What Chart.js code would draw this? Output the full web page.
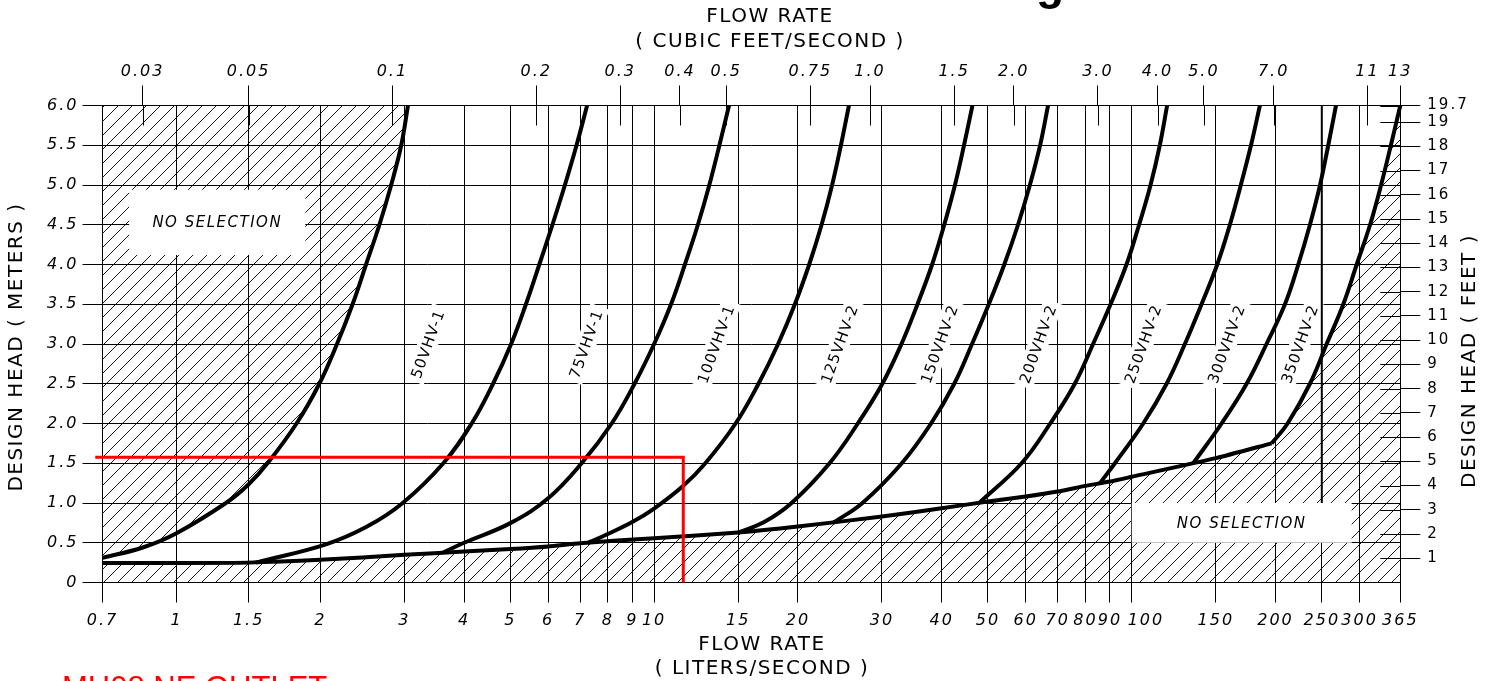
<!DOCTYPE html>
<html>
<head>
<meta charset="utf-8">
<script src="https://cdn.jsdelivr.net/npm/chart.js@4.4.1/dist/chart.umd.min.js"></script>
<style>
  html, body { margin: 0; padding: 0; background: #fff; }
  #wrap { position: relative; width: 1494px; height: 681px; }
</style>
</head>
<body>
<div id="wrap"><canvas id="pumpChart"></canvas></div>
<script>
    /* --------------- Curves: [flow L/s, design head m] ---------------------------------------- */
    const lowLimit = [[0.7, 0.31], [0.85, 0.44], [1, 0.62], [1.269, 1.0], [1.413, 1.23], [1.551, 1.5], [1.784, 2.0], [1.991, 2.5], [2.168, 3.0], [2.337, 3.5], [2.494, 4.0], [2.66, 4.5], [2.815, 5.0], [2.955, 5.5], [3.053, 6.0]];
    const baseline = [[0.7, 0.245], [1, 0.245], [1.413, 0.25], [2, 0.285], [3, 0.348], [4, 0.39], [5, 0.42], [6, 0.453], [7, 0.495], [10, 0.558], [15, 0.629], [20, 0.704], [30, 0.83], [40, 0.935], [50, 1.018], [60, 1.081], [70, 1.144], [80, 1.215], [90, 1.27], [100, 1.33], [150, 1.564], [196.3, 1.75]];
    const vhv50 = [[1.467, 0.25], [2.056, 0.48], [2.5, 0.7], [2.976, 1.0], [3.62, 1.5], [4.15, 2.0], [4.6, 2.5], [5.019, 3.0], [5.39, 3.5], [5.75, 4.0], [6.125, 4.5], [6.505, 5.0], [6.88, 5.5], [7.24, 6.0]];
    const vhv75 = [[3.61, 0.375], [4, 0.5], [5, 0.747], [6, 1.06], [7.05, 1.5], [8.15, 2.0], [9.1, 2.5], [10.0, 3.0], [10.85, 3.5], [11.6, 4.0], [12.35, 4.5], [13.05, 5.0], [13.7, 5.5], [14.35, 6.0]];
    const vhv100 = [[7.25, 0.495], [8, 0.61], [9, 0.76], [10, 0.93], [11.48, 1.21], [12.8, 1.5], [14.81, 2.0], [16.54, 2.5], [18.18, 3.0], [19.71, 3.5], [21.12, 4.0], [22.42, 4.5], [23.59, 5.0], [24.61, 5.5], [25.58, 6.0]];
    const vhv125 = [[14.97, 0.625], [17, 0.76], [19.4, 1.0], [23.3, 1.5], [26.7, 2.0], [30.05, 2.5], [32.95, 3.0], [35.6, 3.5], [38.2, 4.0], [40.5, 4.5], [42.65, 5.0], [44.55, 5.5], [46.4, 6.0]];
    const vhv150 = [[23.7, 0.75], [27.3, 1.0], [33.0, 1.5], [38.0, 2.0], [42.5, 2.5], [46.3, 3.0], [50.2, 3.5], [54.1, 4.0], [57.8, 4.5], [61.2, 5.0], [64.3, 5.5], [66.8, 6.0]];
    const vhv200 = [[48.1, 1.01], [58.8, 1.5], [67.5, 2.0], [76.0, 2.5], [83.0, 3.0], [90.3, 3.5], [97.5, 4.0], [103.6, 4.5], [109.5, 5.0], [114.5, 5.5], [118.6, 6.0]];
    const vhv250 = [[85.8, 1.25], [92.2, 1.5], [105.7, 2.0], [118.3, 2.5], [129.2, 3.0], [140, 3.5], [151, 4.0], [160.5, 4.5], [169.2, 5.0], [177.7, 5.5], [185.5, 6.0]];
    const vhv300 = [[134.5, 1.5], [154.2, 2.0], [174, 2.5], [191.5, 3.0], [209.3, 3.5], [223.2, 4.0], [236.1, 4.5], [247.9, 5.0], [257.9, 5.5], [267.7, 6.0]];
    const vhv350 = [[196.3, 1.75], [212, 2.0], [236.1, 2.5], [255.9, 3.0], [277.3, 3.5], [295.8, 4.0], [315.5, 4.5], [332.7, 5.0], [348.8, 5.5], [365, 6.0]];
    const limit250 = [[250, 1.0], [250, 6.0]];
    const designPoint = [[0.676, 1.575], [11.51, 1.575], [11.51, 0]];
    const pumpNames = ["50VHV-1", "75VHV-1", "100VHV-1", "125VHV-2", "150VHV-2", "200VHV-2", "250VHV-2", "300VHV-2", "350VHV-2"];

    /* --------------- Axis ticks --------------------- */
    const lpsTicks = [0.7, 1, 1.416, 2, 3, 4, 5, 6, 7, 8, 9, 10, 15, 20, 30, 40, 50, 60, 70, 80, 90, 100, 150, 200, 250, 300, 365];
    const lpsLabels = ["0.7", "1", "1.5", "2", "3", "4", "5", "6", "7", "8", "9", "10", "15", "20", "30", "40", "50", "60", "70", "80", "90", "100", "150", "200", "250", "300", "365"];
    const cfsTicks = [0.03, 0.05, 0.1, 0.2, 0.3, 0.4, 0.5, 0.75, 1, 1.5, 2, 3, 4, 5, 7, 11, 13];
    const cfsLabels = ["0.03", "0.05", "0.1", "0.2", "0.3", "0.4", "0.5", "0.75", "1.0", "1.5", "2.0", "3.0", "4.0", "5.0", "7.0", "11", "13"];
    const ftTicks = [1, 2, 3, 4, 5, 6, 7, 8, 9, 10, 11, 12, 13, 14, 15, 16, 17, 18, 19, 19.685];
    const ftLabels = ["1", "2", "3", "4", "5", "6", "7", "8", "9", "10", "11", "12", "13", "14", "15", "16", "17", "18", "19", "19.7"];

    const LPS_PER_CFS = 28.3168;
    const M_PER_FT = 0.3048;
    const FONT = '"DejaVu Sans"';

    /* --------------- Hatch pattern for the no selection areas --------------------- */
    const canvas = document.getElementById("pumpChart");
    const hatch = (() => {
      const c = document.createElement("canvas");
      c.width = 14;
      c.height = 14;
      const g = c.getContext("2d");
      g.strokeStyle = "#000";
      g.lineWidth = 0.9;
      g.beginPath();
      g.moveTo(-7, 7); g.lineTo(7, -7);
      g.moveTo(0, 14); g.lineTo(14, 0);
      g.moveTo(7, 21); g.lineTo(21, 7);
      g.stroke();
      return canvas.getContext("2d").createPattern(c, "repeat");
    })();

    const curve = (points, extra) => Object.assign({
      data: points.map(p => ({ x: p[0], y: p[1] })),
      showLine: true,
      borderColor: "#000",
      borderWidth: 4,
      pointRadius: 0,
      fill: false,
      tension: 0.4,
      clip: 4,
    }, extra);

    /* --------------- Plugins --------------------- */
    const letterSpacing = {
      id: "letterSpacing",
      beforeDraw(chart) { chart.ctx.letterSpacing = "2px"; },
    };

    const curveLabels = {
      id: "curveLabels",
      beforeDatasetsDraw(chart, args, opts) {
        const { ctx, scales: { x, y } } = chart;
        ctx.save();
        ctx.font = "15px " + FONT;
        ctx.letterSpacing = "1px";
        ctx.textAlign = "center";
        ctx.textBaseline = "middle";
        pumpNames.forEach((name, i) => {
          const w = ctx.measureText(name).width + 8;
          ctx.save();
          ctx.translate(x.getPixelForValue(opts.at[i]), y.getPixelForValue(opts.head));
          ctx.rotate(-70 * Math.PI / 180);
          ctx.fillStyle = "#fff";
          ctx.fillRect(-w / 2, -10, w, 20);
          ctx.fillStyle = "#000";
          ctx.fillText(name, 0, 1);
          ctx.restore();
        });
        ctx.restore();
      },
    };

    const noSelection = {
      id: "noSelection",
      afterDatasetsDraw(chart, args, opts) {
        const { ctx, chartArea: a, scales: { x, y, xTop, yFt } } = chart;
        ctx.save();
        opts.boxes.forEach(b => {
          const x0 = x.getPixelForValue(b[0]), x1 = x.getPixelForValue(b[1]);
          const y0 = y.getPixelForValue(b[3]), y1 = y.getPixelForValue(b[2]);
          ctx.fillStyle = "#fff";
          ctx.fillRect(x0, y0, x1 - x0, y1 - y0);
          ctx.fillStyle = "#000";
          ctx.font = "italic 15px " + FONT;
          ctx.letterSpacing = "1.5px";
          ctx.textAlign = "center";
          ctx.textBaseline = "middle";
          ctx.fillText("NO SELECTION", (x0 + x1) / 2, (y0 + y1) / 2 + 1);
        });
        // inner halves of the cfs and feet tick marks
        ctx.strokeStyle = "#000";
        ctx.lineWidth = 1;
        ctx.beginPath();
        xTop.ticks.forEach(t => {
          const px = Math.round(xTop.getPixelForValue(t.value)) + 0.5;
          ctx.moveTo(px, a.top);
          ctx.lineTo(px, a.top + 20);
        });
        yFt.ticks.forEach(t => {
          const py = Math.round(yFt.getPixelForValue(t.value)) + 0.5;
          ctx.moveTo(a.right - 20, py);
          ctx.lineTo(a.right, py);
        });
        ctx.stroke();
        ctx.restore();
      },
    };

    const sheetText = {
      id: "sheetText",
      afterDraw(chart) {
        const ctx = chart.ctx;
        ctx.save();
        ctx.fillStyle = "#000";
        ctx.font = "20px " + FONT;
        ctx.letterSpacing = "1.5px";
        ctx.textAlign = "center";
        ctx.textBaseline = "middle";
        ctx.fillText("FLOW RATE", 770, 17);
        ctx.fillText("( CUBIC FEET/SECOND )", 770, 42);
        ctx.fillText("FLOW RATE", 762, 645);
        ctx.fillText("( LITERS/SECOND )", 762, 669);
        [[17, 347, "DESIGN HEAD ( METERS )"], [1470, 361, "DESIGN HEAD ( FEET )"]].forEach(t => {
          ctx.save();
          ctx.translate(t[0], t[1]);
          ctx.rotate(-Math.PI / 2);
          ctx.fillText(t[2], 0, 0);
          ctx.restore();
        });
        ctx.letterSpacing = "0px";
        ctx.textAlign = "left";
        ctx.textBaseline = "alphabetic";
        ctx.font = "bold 46px 'Liberation Sans'";
        ctx.fillText("g", 1036, -1);
        ctx.fillStyle = "#ff0000";
        ctx.font = "31px 'Liberation Sans'";
        ctx.fillText("MH08 NE OUTLET", 62, 698);
        ctx.restore();
      },
    };

    /* --------------- Chart --------------------- */
    const tickFont = { family: FONT, size: 16, style: "italic" };
    const gridLines = { color: "#000", lineWidth: 1, tickLength: 20 };

    let pumpChart = new Chart(canvas, {
      type: "scatter",
      plugins: [letterSpacing, curveLabels, noSelection, sheetText],
      data: {
        datasets: [
          curve(designPoint, { borderColor: "#ff0000", borderWidth: 3, tension: 0, clip: false }),
          curve(limit250, { borderWidth: 2, tension: 0 }),
          curve(vhv50),
          curve(vhv75),
          curve(vhv100),
          curve(vhv125),
          curve(vhv150),
          curve(vhv200),
          curve(vhv250),
          curve(vhv300),
          curve(vhv350, { fill: "origin", backgroundColor: hatch }),
          curve(baseline, { fill: "origin", backgroundColor: hatch, tension: 0.2 }),
          curve(lowLimit, { fill: "end", backgroundColor: hatch }),
        ],
      },
      options: {
        responsive: true,
        maintainAspectRatio: false,
        animation: false,
        events: [],
        layout: { padding: 0 },
        plugins: {
          legend: { display: false },
          tooltip: { enabled: false },
          curveLabels: { at: [3.36, 7.21, 13.49, 24.46, 39.6, 63.7, 105.7, 158, 225], head: 3.0 },
          noSelection: { boxes: [[0.796, 1.861, 4.12, 4.94], [100, 288.7, 0.5, 1.0]] },
        },
        scales: {
          x: {
            type: "logarithmic",
            position: "bottom",
            min: 0.7,
            max: 365,
            bounds: "data",
            afterBuildTicks: (s) => { s.ticks = lpsTicks.map(v => ({ value: v })); },
            afterFit: (s) => { s.height = 98.5; },
            ticks: {
              autoSkip: false, maxRotation: 0, minRotation: 0, padding: 9, color: "#000", font: tickFont,
              callback: (v, i) => (lpsLabels[i] === "100" ? "    100" : lpsLabels[i]),
            },
            grid: gridLines,
            border: { color: "#000", width: 1 },
          },
          xTop: {
            type: "logarithmic",
            position: "top",
            min: 0.7 / LPS_PER_CFS,
            max: 365 / LPS_PER_CFS,
            bounds: "data",
            afterBuildTicks: (s) => { s.ticks = cfsTicks.map(v => ({ value: Math.min(v, s.max) })); },
            afterFit: (s) => { s.height = 105.5; },
            ticks: {
              autoSkip: false, maxRotation: 0, minRotation: 0, padding: 4, color: "#000", font: tickFont,
              callback: (v, i) => cfsLabels[i],
            },
            grid: { ...gridLines, drawOnChartArea: false },
            border: { color: "#000", width: 1 },
          },
          y: {
            type: "linear",
            position: "left",
            min: 0,
            max: 6,
            afterFit: (s) => { s.width = 102.5; },
            ticks: {
              stepSize: 0.5, padding: 4, color: "#000", font: tickFont,
              callback: (v) => (v === 0 ? "0" : v.toFixed(1)),
            },
            grid: gridLines,
            border: { color: "#000", width: 1 },
          },
          yFt: {
            type: "linear",
            position: "right",
            min: 0,
            max: 6 / M_PER_FT,
            afterBuildTicks: (s) => { s.ticks = ftTicks.map(v => ({ value: v })); },
            afterFit: (s) => { s.width = 93.7; },
            ticks: {
              autoSkip: false, padding: 7, color: "#000", font: { family: FONT, size: 15 },
              callback: (v, i) => ftLabels[i],
            },
            grid: { ...gridLines, drawOnChartArea: false },
            border: { color: "#000", width: 1 },
          },
        },
      },
    });
</script>
</body>
</html>
